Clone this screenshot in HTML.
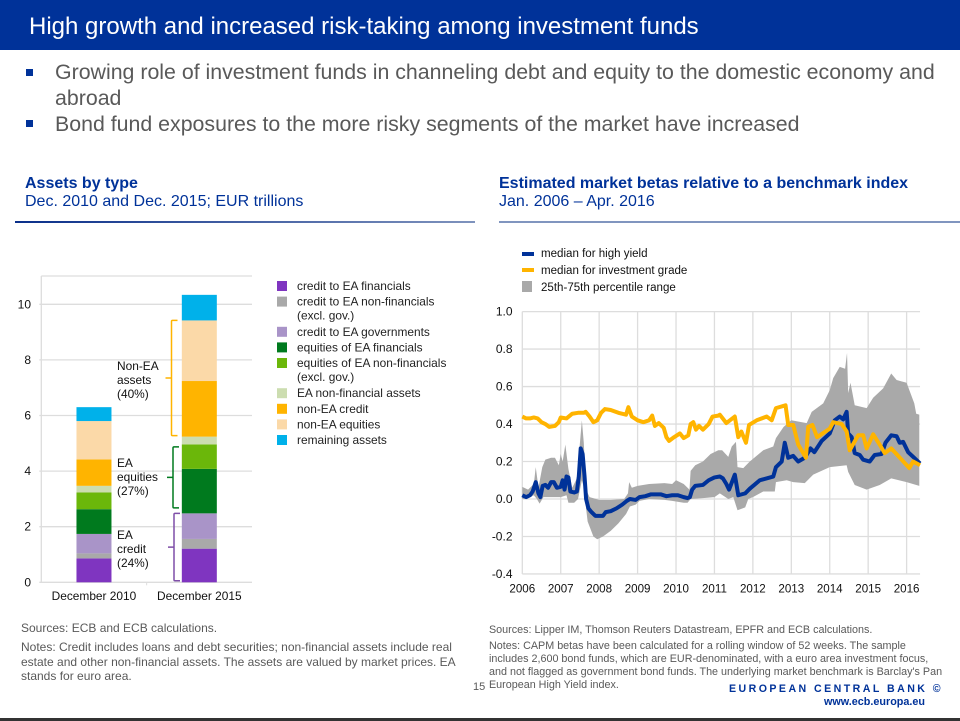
<!DOCTYPE html>
<html><head><meta charset="utf-8">
<style>
html,body{margin:0;padding:0;background:#fff}
#page{position:relative;width:960px;height:721px;overflow:hidden;background:#fff;font-family:"Liberation Sans",sans-serif}
.t{position:absolute;white-space:nowrap}
svg text{font-family:"Liberation Sans",sans-serif}
</style></head>
<body>
<div id="page">
<div class="t" style="left:0;top:0;width:960px;height:50px;background:#003299"></div>
<div class="t" style="left:29px;top:12px;font-size:24px;line-height:30px;color:#fff">High growth and increased risk-taking among investment funds</div>
<div class="t" style="left:26px;top:69px;width:7px;height:7px;background:#003299"></div>
<div class="t" style="left:55px;top:60px;font-size:21.33px;line-height:25.5px;color:#595959">Growing role of investment funds in channeling debt and equity to the domestic economy and<br>abroad</div>
<div class="t" style="left:26px;top:120px;width:7px;height:7px;background:#003299"></div>
<div class="t" style="left:55px;top:112px;font-size:21.33px;line-height:25.5px;color:#595959">Bond fund exposures to the more risky segments of the market have increased</div>

<div class="t" style="left:25px;top:175px;font-size:16px;line-height:18px;font-weight:bold;color:#003299">Assets by type</div>
<div class="t" style="left:25px;top:193px;font-size:16px;line-height:18px;color:#003299">Dec. 2010 and Dec. 2015; EUR trillions</div>
<div class="t" style="left:15px;top:221px;width:460px;height:1.5px;background:linear-gradient(90deg,#0a2f8a,#7f93bd)"></div>
<div class="t" style="left:499px;top:175px;font-size:16px;line-height:18px;font-weight:bold;color:#003299">Estimated market betas relative to a benchmark index</div>
<div class="t" style="left:499px;top:193px;font-size:16px;line-height:18px;color:#003299">Jan. 2006 – Apr. 2016</div>
<div class="t" style="left:499px;top:221px;width:461px;height:2px;background:#8095bf"></div>

<svg id="chart" width="960" height="721" style="position:absolute;left:0;top:0"></svg>

<div class="t" style="left:21px;top:621px;font-size:12px;line-height:14px;color:#595959">Sources: ECB and ECB calculations.</div>
<div class="t" style="left:21px;top:640px;font-size:12px;line-height:14.6px;color:#595959">Notes: Credit includes loans and debt securities; non-financial assets include real<br>estate and other non-financial assets. The assets are valued by market prices. EA<br>stands for euro area.</div>
<div class="t" style="left:489px;top:624px;font-size:10.77px;line-height:13px;color:#595959">Sources: Lipper IM, Thomson Reuters Datastream, EPFR and ECB calculations.</div>
<div class="t" style="left:489px;top:640px;font-size:10.77px;line-height:13px;color:#595959">Notes: CAPM betas have been calculated for a rolling window of 52 weeks. The sample<br>includes 2,600 bond funds, which are EUR-denominated, with a euro area investment focus,<br>and not flagged as government bond funds. The underlying market benchmark is Barclay's Pan<br>European High Yield index.</div>
<div class="t" style="left:473px;top:680px;font-size:11px;line-height:14px;color:#595959">15</div>
<div class="t" style="left:729px;top:682px;font-size:10.6px;line-height:14px;font-weight:bold;letter-spacing:2.45px;color:#003299">EUROPEAN CENTRAL BANK ©</div>
<div class="t" style="left:824px;top:695px;font-size:10.8px;line-height:14px;font-weight:bold;color:#003299">www.ecb.europa.eu</div>
<div class="t" style="left:0;top:718px;width:960px;height:3px;background:#333"></div>
</div>
<script>
// ---------- bar chart data ----------
const barCategories = ['December 2010', 'December 2015'];
const barSeriesNames = ['credit to EA financials', 'credit to EA non-financials', 'credit to EA governments', 'equities of EA financials', 'equities of EA non-financials', 'EA non-financial assets', 'non-EA credit', 'non-EA equities', 'remaining assets'];
const barColors = ['#7F35C0', '#A9A9A9', '#A994C8', '#007A1E', '#6BB70A', '#CCDDB0', '#FFB400', '#FBD9A8', '#00B1EA'];
const values2010 = [0.86, 0.18, 0.70, 0.89, 0.60, 0.24, 0.95, 1.38, 0.50];
const values2015 = [1.21, 0.35, 0.92, 1.60, 0.88, 0.28, 2.00, 2.18, 0.92];
const barTicks = [0, 2, 4, 6, 8, 10];
const legendLabels = [['credit to EA financials'], ['credit to EA non-financials', '(excl. gov.)'], ['credit to EA governments'], ['equities of EA financials'], ['equities of EA non-financials', '(excl. gov.)'], ['EA non-financial assets'], ['non-EA credit'], ['non-EA equities'], ['remaining assets']];

// ---------- line chart data ----------
const hyDates = [2006,2006.05,2006.1,2006.2,2006.27,2006.35,2006.42,2006.47,2006.53,2006.6,2006.67,2006.75,2006.82,2006.9,2007,2007.05,2007.1,2007.15,2007.2,2007.25,2007.35,2007.42,2007.47,2007.52,2007.57,2007.62,2007.66,2007.72,2007.8,2007.9,2008,2008.1,2008.17,2008.3,2008.45,2008.6,2008.72,2008.8,2008.95,2009.05,2009.2,2009.35,2009.6,2009.75,2009.9,2010.05,2010.2,2010.3,2010.36,2010.42,2010.5,2010.7,2010.85,2011,2011.14,2011.22,2011.31,2011.38,2011.53,2011.62,2011.8,2011.92,2012.18,2012.53,2012.6,2012.75,2012.83,2012.92,2013.05,2013.18,2013.35,2013.5,2013.6,2013.79,2014,2014.13,2014.26,2014.35,2014.44,2014.48,2014.57,2014.65,2014.78,2014.87,2015.04,2015.17,2015.35,2015.45,2015.6,2015.74,2015.82,2015.91,2016.04,2016.17,2016.35];
const highYield = [0.02,0.015,0.01,0.02,0.04,0.09,0.03,0.01,0.07,0.075,0.06,0.09,0.09,0.06,0.065,0.1,0.05,0.12,0.115,0.04,0.035,0.04,0.12,0.27,0.24,0.12,0,-0.05,-0.07,-0.09,-0.09,-0.09,-0.07,-0.065,-0.05,-0.03,-0.01,0,-0.005,0.01,0.015,0.025,0.025,0.015,0.02,0.02,0.01,0.005,0.01,0.05,0.07,0.075,0.1,0.115,0.12,0.11,0.08,0.05,0.13,0.02,0.03,0.055,0.1,0.12,0.17,0.2,0.3,0.22,0.23,0.2,0.22,0.27,0.25,0.31,0.35,0.42,0.44,0.425,0.465,0.35,0.33,0.245,0.235,0.21,0.2,0.235,0.24,0.3,0.34,0.335,0.3,0.305,0.25,0.225,0.19];

const igDates = [2006,2006.1,2006.2,2006.3,2006.4,2006.5,2006.6,2006.7,2006.85,2006.95,2007,2007.15,2007.3,2007.45,2007.6,2007.65,2007.75,2007.85,2007.95,2008.05,2008.15,2008.3,2008.5,2008.7,2008.76,2008.85,2009,2009.15,2009.3,2009.38,2009.45,2009.55,2009.68,2009.75,2009.82,2009.95,2010.1,2010.2,2010.32,2010.38,2010.45,2010.52,2010.6,2010.7,2010.85,2010.95,2011.1,2011.14,2011.31,2011.53,2011.62,2011.7,2011.82,2011.9,2012.1,2012.36,2012.49,2012.6,2012.85,2012.92,2013.05,2013.18,2013.38,2013.44,2013.55,2013.67,2014,2014.09,2014.31,2014.44,2014.52,2014.74,2014.87,2014.96,2015.13,2015.3,2015.43,2015.6,2015.87,2016.07,2016.17,2016.35];
const investmentGrade = [0.44,0.43,0.43,0.435,0.43,0.41,0.4,0.385,0.39,0.41,0.435,0.43,0.455,0.46,0.46,0.465,0.44,0.41,0.42,0.46,0.48,0.475,0.46,0.45,0.49,0.44,0.42,0.41,0.42,0.445,0.39,0.405,0.38,0.33,0.31,0.33,0.35,0.325,0.34,0.4,0.41,0.37,0.39,0.37,0.4,0.44,0.445,0.45,0.405,0.44,0.33,0.36,0.3,0.395,0.42,0.44,0.42,0.485,0.5,0.395,0.395,0.29,0.22,0.385,0.395,0.33,0.375,0.41,0.4,0.36,0.26,0.34,0.34,0.27,0.345,0.29,0.245,0.27,0.21,0.165,0.2,0.18];

const upperDates = [2006,2006.15,2006.3,2006.35,2006.42,2006.52,2006.6,2006.75,2006.85,2006.95,2007,2007.05,2007.12,2007.2,2007.3,2007.42,2007.5,2007.55,2007.6,2007.66,2007.75,2008,2008.3,2008.65,2008.75,2008.78,2008.85,2009,2009.3,2009.7,2009.9,2010,2010.2,2010.35,2010.38,2010.5,2010.7,2010.9,2011.1,2011.2,2011.36,2011.45,2011.56,2011.6,2011.75,2011.92,2012.27,2012.53,2012.6,2012.8,2013,2013.4,2013.53,2013.83,2014,2014.09,2014.26,2014.4,2014.45,2014.48,2014.54,2014.65,2014.96,2015.13,2015.39,2015.6,2015.74,2016,2016.2,2016.25,2016.33];
const percentile75 = [0.065,0.05,0.08,0.17,0.06,0.17,0.21,0.22,0.22,0.18,0.24,0.2,0.29,0.16,0.06,0.11,0.3,0.42,0.3,0.05,0.01,-0.005,-0.005,0,0.03,0.09,0.06,0.07,0.08,0.085,0.08,0.1,0.08,0.05,0.15,0.18,0.2,0.24,0.26,0.26,0.225,0.28,0.305,0.17,0.165,0.2,0.26,0.28,0.325,0.385,0.42,0.405,0.465,0.51,0.58,0.645,0.705,0.695,0.78,0.565,0.62,0.5,0.485,0.54,0.59,0.67,0.635,0.62,0.51,0.455,0.45];

const lowerDates = [2006,2006.15,2006.3,2006.38,2006.45,2006.55,2006.8,2007,2007.15,2007.2,2007.35,2007.45,2007.55,2007.62,2007.66,2007.7,2007.85,2007.95,2008.1,2008.3,2008.5,2008.7,2008.8,2008.95,2009.05,2009.3,2009.7,2009.9,2010.2,2010.3,2010.38,2010.7,2011,2011.14,2011.36,2011.49,2011.6,2011.8,2011.88,2012,2012.27,2012.57,2012.6,2012.88,2013.05,2013.35,2013.57,2014,2014.44,2014.48,2014.65,2014.96,2015.3,2015.6,2016,2016.33];
const percentile25 = [0,0.005,0.02,0,-0.025,0.01,0.01,0.01,0.02,-0.02,-0.02,0,0.1,0.05,-0.05,-0.12,-0.2,-0.215,-0.2,-0.17,-0.13,-0.08,-0.04,-0.03,-0.01,0,-0.005,-0.01,-0.02,-0.02,0,0.005,0.01,0.03,0,0.01,-0.06,-0.045,0,0.01,0.04,0.04,0.09,0.1,0.09,0.085,0.13,0.17,0.18,0.145,0.075,0.05,0.075,0.11,0.09,0.07];

const yearTicks = [2006,2007,2008,2009,2010,2011,2012,2013,2014,2015,2016];
const betaTicks = [-0.4,-0.2,0,0.2,0.4,0.6,0.8,1];

const NS = 'http://www.w3.org/2000/svg';
const svg = document.getElementById('chart');
function mk(tag, attrs, text) {
  const el = document.createElementNS(NS, tag);
  for (const k in attrs) el.setAttribute(k, attrs[k]);
  if (text !== undefined) el.textContent = text;
  svg.appendChild(el);
  return el;
}
const grid = '#DDDDDD';

// ---------- bar chart ----------
const by = v => 582.3 - v * 27.8;
const plotL = 41.3, plotR = 252, plotT = 276;
const catW = (plotR - plotL) / barCategories.length;
const bx = i => plotL + catW * (i + 0.5);

barTicks.forEach(t => {
  const g = mk('line', {x1: plotL - 2, x2: plotR, y1: by(t), y2: by(t), stroke: grid, 'stroke-width': 1.3});
  
  
  const l = mk('text', {x: 31, y: by(t) + 4, 'text-anchor': 'end', 'font-size': 12, fill: '#111'}, String(t));
  
  
});
const barFrameL = mk('line', {x1: plotL, x2: plotL, y1: plotT, y2: by(0), stroke: grid, 'stroke-width': 1.3});


const barFrameT = mk('line', {x1: plotL, x2: plotR, y1: plotT, y2: plotT, stroke: grid, 'stroke-width': 1.3});


const barMid = mk('line', {x1: plotL + catW, x2: plotL + catW, y1: by(0), y2: by(0) + 3, stroke: grid});



[values2010, values2015].forEach((vals, i) => {
  let base = 0;
  vals.forEach((v, s) => {
    const r = mk('rect', {x: bx(i) - 17.5, y: by(base + v), width: 35, height: by(base) - by(base + v), fill: barColors[s]});
    
    
    base += v;
  });
  const c = mk('text', {x: bx(i), y: 600, 'text-anchor': 'middle', 'font-size': 11.9, fill: '#111'}, barCategories[i]);
  
  
});

// brackets on the 2015 bar
function cumulative(n) { return values2015.slice(0, n).reduce((a, b) => a + b, 0); }
function bracket(from, to, x, color, labels, labelY, topInset, bottomInset) {
  const y1 = by(cumulative(to)) + topInset, y2 = by(cumulative(from)) - bottomInset, m = (y1 + y2) / 2;
  const p = mk('path', {d: `M${x + 6} ${y1}H${x + 1}Q${x} ${y1} ${x} ${y1 + 1}V${y2 - 1}Q${x} ${y2} ${x + 1} ${y2}H${x + 6}M${x} ${m}H${x - 6}`, fill: 'none', stroke: color, 'stroke-width': 1.5});
  
  
  labels.forEach((s, i) => {
    const t = mk('text', {x: 117, y: labelY + i * 14, 'font-size': 11.9, fill: '#111'}, s);
    
    
  });
}
bracket(6, 8, 171.5, '#FFB400', ['Non-EA', 'assets', '(40%)'], 370, 0, 1);
bracket(3, 5, 173, '#007A1E', ['EA', 'equities', '(27%)'], 467, 2.5, 5.5);
bracket(0, 3, 174, '#7F4FA8', ['EA', 'credit', '(24%)'], 539, 0, 1.5);

// legend
let legendY = 281;
legendLabels.forEach((lines, i) => {
  const sw = mk('rect', {x: 277, y: legendY, width: 10, height: 10, fill: barColors[i]});
  
  
  lines.forEach((s, j) => {
    const t = mk('text', {x: 297, y: legendY + 9 + j * 14, 'font-size': 11.9, fill: '#222'}, s);
    
    
  });
  legendY += 15.6 + (lines.length - 1) * 14.6;
});

// ---------- line chart ----------
const lx = d => 522.3 + (d - 2006) * 38.43;
const ly = v => 499 - v * 187.4;
const lineR = lx(2016.35);

betaTicks.forEach(t => {
  const g = mk('line', {x1: lx(2006), x2: lineR, y1: ly(t), y2: ly(t), stroke: grid, 'stroke-width': 1.3});
  
  
  const l = mk('text', {x: 512.5, y: ly(t) + 4, 'text-anchor': 'end', 'font-size': 12, fill: '#111'}, t.toFixed(1));
  
  
});
yearTicks.forEach(t => {
  const g = mk('line', {x1: lx(t), x2: lx(t), y1: ly(1), y2: ly(-0.4), stroke: grid, 'stroke-width': 1.3});
  
  
  const l = mk('text', {x: lx(t), y: 592.5, 'text-anchor': 'middle', 'font-size': 11.6, fill: '#111'}, String(t));
  
  
});

const upperPts = upperDates.map((d, i) => lx(d) + ',' + ly(percentile75[i]));
const lowerPts = lowerDates.map((d, i) => lx(d) + ',' + ly(percentile25[i])).reverse();
const band = mk('polygon', {points: upperPts.concat(lowerPts).join(' '), fill: '#A9A9A9'});



const hyLine = mk('polyline', {points: hyDates.map((d, i) => lx(d) + ',' + ly(highYield[i])).join(' '), fill: 'none', stroke: '#003299', 'stroke-width': 4, 'stroke-linejoin': 'round'});


const igLine = mk('polyline', {points: igDates.map((d, i) => lx(d) + ',' + ly(investmentGrade[i])).join(' '), fill: 'none', stroke: '#FFB400', 'stroke-width': 4, 'stroke-linejoin': 'round'});



// line chart legend
const leg1 = mk('rect', {x: 522, y: 252, width: 12, height: 4, fill: '#003299'});


const leg2 = mk('rect', {x: 522, y: 268, width: 12, height: 4, fill: '#FFB400'});


const leg3 = mk('rect', {x: 522, y: 281, width: 10, height: 11, fill: '#A9A9A9'});


const lt1 = mk('text', {x: 541, y: 257, 'font-size': 11.55, fill: '#111'}, 'median for high yield');


const lt2 = mk('text', {x: 541, y: 274, 'font-size': 11.55, fill: '#111'}, 'median for investment grade');


const lt3 = mk('text', {x: 541, y: 291, 'font-size': 11.55, fill: '#111'}, '25th-75th percentile range');


</script>
</body></html>
